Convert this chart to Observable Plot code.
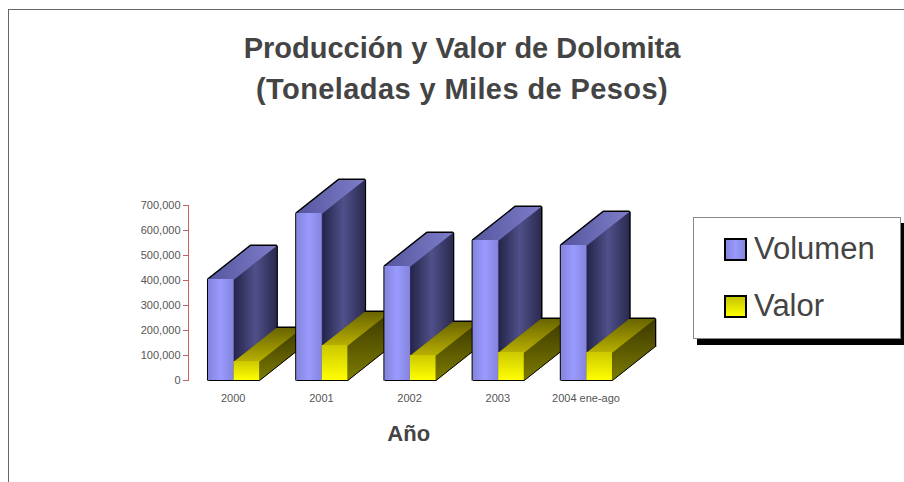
<!DOCTYPE html>
<html>
<head>
<meta charset="utf-8">
<script src="https://cdn.jsdelivr.net/npm/d3@7"></script>
<script src="https://cdn.jsdelivr.net/npm/@observablehq/plot@0.6"></script>
<style>
html,body{margin:0;padding:0;background:#fff;width:904px;height:482px;overflow:hidden;font-family:"Liberation Sans",Arial,sans-serif}
#frame{position:absolute;left:8px;top:9px;width:896px;height:473px;border-top:1px solid #666;border-left:1px solid #666;box-sizing:border-box}
#chart{position:absolute;left:0;top:0}
#title{position:absolute;left:0;top:28px;width:924px;text-align:center;font-weight:bold;font-size:29px;line-height:40.5px;color:#444}
#legend{position:absolute;left:693px;top:217px;width:208px;height:122px;box-sizing:border-box;background:#fff;border:1px solid #888;box-shadow:4px 6px 0 #000}
.sw{position:absolute;left:30px;width:23px;height:23px;box-sizing:border-box;border:2px solid #000}
.lb{position:absolute;left:60px;font-size:31px;line-height:36px;color:#444}
</style>
</head>
<body>
<div id="frame"></div>
<div id="chart"></div>
<div id="title">Producción y Valor de Dolomita<br><span style="letter-spacing:.4px">(Toneladas y Miles de Pesos)</span></div>
<div id="legend">
  <div class="sw" style="top:20px;background:linear-gradient(90deg,#8585dd,#9999ff 50%,#8585dd)"></div><div class="lb" style="top:13px">Volumen</div>
  <div class="sw" style="top:77px;background:linear-gradient(180deg,#c4c400,#ffff00)"></div><div class="lb" style="top:70px">Valor</div>
</div>
<script>
const categories = ["2000", "2001", "2002", "2003", "2004 ene-ago"];
const volumen = [404000, 668000, 456000, 560000, 540000];
const valor = [76000, 140000, 100000, 112000, 112000];
const yTicks = [0, 100000, 200000, 300000, 400000, 500000, 600000, 700000];

const barW = 0.29, depthX = 0.48, depthV = 134000;

const gradients = {
  blueFront: ["h", [[0, "#8484dc"], [0.5, "#9a9aff"], [1, "#8484dc"]]],
  blueSide: ["h", [[0, "#24244a"], [0.5, "#50508a"], [1, "#2a2a50"]]],
  blueTop: ["h", [[0, "#5656a0"], [1, "#7c7cc8"]]],
  yelFront: ["v", [[0, "#ccc800"], [1, "#ffff00"]]],
  yelTop: ["v", [[0, "#6a6400"], [1, "#b8b000"]]],
  yelSide: ["v", [[0, "#3c3800"], [1, "#7c7c00"]]]
};
const defs = () => {
  const d = d3.create("svg:defs");
  for (const [id, [dir, stops]] of Object.entries(gradients)) {
    const g = d.append("linearGradient").attr("id", id)
      .attr("x1", 0).attr("y1", 0)
      .attr("x2", dir === "h" ? 1 : 0).attr("y2", dir === "h" ? 0 : 1);
    for (const [o, c] of stops) g.append("stop").attr("offset", o).attr("stop-color", c);
  }
  return d.node();
};

const poly = (pts, opts) => Plot.line(pts.map(([x, y]) => ({x, y})), {x: "x", y: "y", strokeLinecap: "butt", strokeLinejoin: "miter", ...opts});

function box(x0, v, front, side, top, sw, under, fullOutline) {
  const x1 = x0 + barW;
  const backEdges = [[x0 + depthX, v + depthV], [x1 + depthX, v + depthV], [x1 + depthX, depthV]];
  const outline = fullOutline ? [[x0, 0], [x0, v], ...backEdges] : backEdges;
  const closed = [[x0, 0], [x0, v], ...backEdges, [x1, 0], [x0, 0]];
  return [
    poly(outline, {stroke: "#000", strokeWidth: sw}),
    poly(closed, {fill: under}),
    poly([[x1, 0], [x1, v], [x1 + depthX, v + depthV], [x1 + depthX, depthV], [x1, 0]], {fill: `url(#${side})`}),
    poly([[x0, v], [x1, v], [x1 + depthX, v + depthV], [x0 + depthX, v + depthV], [x0, v]], {fill: `url(#${top})`}),
    Plot.rect([{x1: x0, x2: x1, y1: 0, y2: v}], {x1: "x1", x2: "x2", y1: "y1", y2: "y2", fill: `url(#${front})`}),
    poly([[x0, 0], [x1, 0], [x1 + depthX, depthV]], {stroke: "#000", strokeWidth: 1})
  ];
}

const bars = categories.flatMap((c, i) => [
  ...box(i, volumen[i], "blueFront", "blueSide", "blueTop", 3, "#3a3a70", true),
  ...box(i + barW, valor[i], "yelFront", "yelSide", "yelTop", 3, "#6a6400", false)
]);

const chart = Plot.plot({
  width: 904,
  height: 482,
  marginLeft: 188,
  marginRight: 255,
  marginTop: 205,
  marginBottom: 102,
  style: {fontFamily: "'Liberation Sans',Arial,sans-serif", fontSize: "11px", background: "transparent"},
  x: {domain: [-0.2266, 5], axis: null},
  y: {domain: [0, 700000]},
  marks: [
    defs,
    Plot.frame({anchor: "left", stroke: "#c86060"}),
    Plot.axisY({ticks: yTicks, tickFormat: d3.format(","), tickSize: 5, tickPadding: 3, stroke: "#c86060", fill: "#555", label: null}),
    ...bars,
    Plot.text(categories, {x: (d, i) => i + barW - 0.01, y: () => 0, text: d => d, dy: 18, fill: "#555", fontSize: 11}),
    Plot.text(["Año"], {x: () => 2.27, y: () => 0, text: d => d, dy: 53, fill: "#444", fontSize: 22, fontWeight: "bold"})
  ]
});
document.getElementById("chart").append(chart);
</script>
</body>
</html>
